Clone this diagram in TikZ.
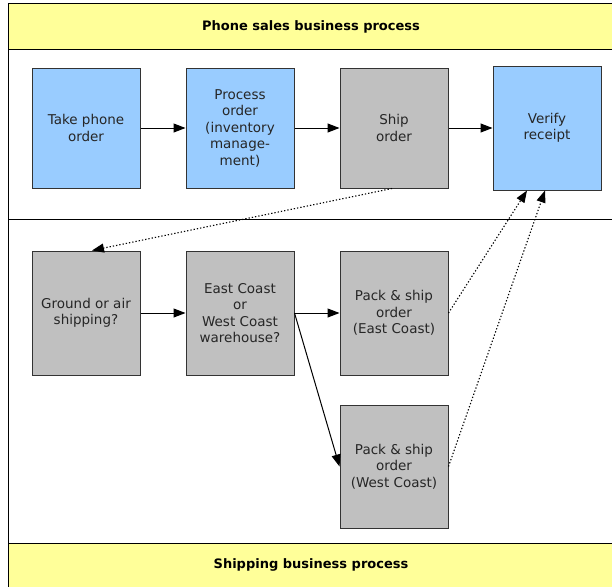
\documentclass[tikz,border=0pt]{standalone}
\usepackage{fontspec}
\setmainfont{DejaVu Sans}
\usetikzlibrary{arrows.meta,calc}
\definecolor{boxblue}{HTML}{99CCFF}
\definecolor{boxgray}{HTML}{C0C0C0}
\definecolor{laneyellow}{HTML}{FFFF99}
\definecolor{edgegray}{HTML}{333333}
\begin{document}
\begin{tikzpicture}[x=1pt,y=-1pt,
  proc/.style={draw=edgegray,line width=1pt,minimum width=108pt,minimum height=120pt,align=center,inner sep=0pt,font=\fontsize{13.5}{16.5}\selectfont,text=black!85},
  bluebox/.style={proc,fill=boxblue},
  graybox/.style={proc,fill=boxgray},
  flow/.style={line width=1pt,-{Triangle[length=12pt,width=9pt]}},
  msg/.style={line width=1.1pt,dash pattern=on 1.3pt off 2pt,-{Triangle[length=12pt,width=9pt]}},
  lanetitle/.style={font=\bfseries\fontsize{13}{15}\selectfont}]
\useasboundingbox (0,0) rectangle (612,586);
% lanes
\fill[laneyellow] (8,4) rectangle (620,50);
\fill[laneyellow] (8,543) rectangle (620,590);
\draw[line width=1pt] (620,4) -- (8,4) -- (8,590);
\draw[line width=1pt] (8,50) -- (620,50);
\draw[line width=1pt] (8,219) -- (620,219);
\draw[line width=1pt] (8,543) -- (620,543);
\node[lanetitle] (t1) at (311,27) {Phone sales business process};
\node[lanetitle] (t2) at (311,565) {Shipping business process};
% boxes
\node[bluebox] (take) at (86,128) {Take phone\\order};
\node[bluebox] (proc) at (240,128) {Process\\order\\(inventory\\manage-\\ment)};
\node[graybox] (ship) at (394,128) {Ship\\order};
\node[bluebox,minimum height=124pt] (verify) at (547,128) {Verify\\receipt};
\node[graybox,minimum height=124pt] (ground) at (86,313) {Ground or air\\shipping?};
\node[graybox,minimum height=124pt] (ew) at (240,313) {East Coast\\or\\West Coast\\warehouse?};
\node[graybox,minimum height=124pt] (pe) at (394,313) {Pack \& ship\\order\\(East Coast)};
\node[graybox,minimum height=123pt] (pw) at (394,466.5) {Pack \& ship\\order\\(West Coast)};
% connectors
\draw[flow] (take.east) -- (proc.west);
\draw[flow] (proc.east) -- (ship.west);
\draw[flow] (ship.east) -- (verify.west);
\draw[msg] ($(ship.south)+(-2,0)$) -- ($(ground.north)+(6,0)$);
\draw[flow] (ground.east) -- (ew.west);
\draw[flow] (ew.east) -- (pe.west);
\draw[flow] (ew.east) -- (pw.west);
\draw[msg] (pe.east) -- ($(verify.south)+(-20,0)$);
\draw[msg] (pw.east) -- ($(verify.south)+(-2,0)$);
\end{tikzpicture}
\end{document}
